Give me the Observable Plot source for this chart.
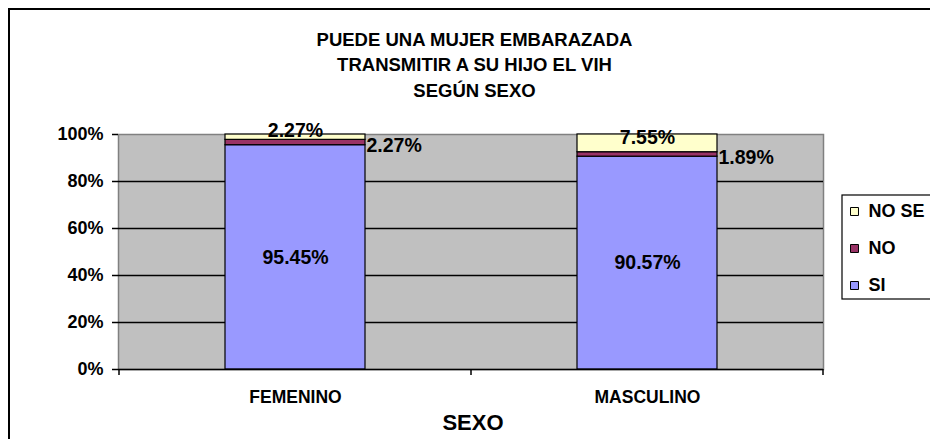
<!DOCTYPE html>
<html>
<head>
<meta charset="utf-8">
<script src="https://cdn.jsdelivr.net/npm/d3@7"></script>
<script src="https://cdn.jsdelivr.net/npm/@observablehq/plot@0.6"></script>
<style>
  html, body { margin: 0; padding: 0; background: #fff; }
  #chart { position: relative; width: 930px; height: 439px; overflow: hidden; }
  svg { font-family: "Liberation Sans", Arial, sans-serif; }
</style>
</head>
<body>
<div id="chart"></div>
<script>
// ---- data ----
const categories = ["FEMENINO", "MASCULINO"];
const series = ["SI", "NO", "NO SE"];
const siValues = [95.45, 90.57];
const noValues = [2.27, 1.89];
const noseValues = [2.27, 7.55];
const colors = ["#9999FF", "#993366", "#FFFFCC"];
const yTicks = [0, 20, 40, 60, 80, 100];
const titleLines = ["PUEDE UNA MUJER EMBARAZADA", "TRANSMITIR A SU HIJO EL VIH", "SEGÚN SEXO"];
const xTitle = "SEXO";
const legendOrder = ["NO SE", "NO", "SI"];

const valuesBySeries = {"SI": siValues, "NO": noValues, "NO SE": noseValues};
const rows = [];
for (const s of series) categories.forEach((c, i) => rows.push({sexo: c, resp: s, value: valuesBySeries[s][i]}));

const font = "Liberation Sans, Arial, sans-serif";
const fmt = v => v.toFixed(2) + "%";

const stackOpts = (s) => Plot.stackY({
  x: "sexo", y: "value", z: "resp", text: d => d.resp === s ? fmt(d.value) : null
});

const legendMarks = [];
legendOrder.forEach((s, k) => {
  const dy = -40.5 + k * 37;
  legendMarks.push(Plot.dot([s], {frameAnchor: "right", dx: 31, dy, symbol: "square", r: 4.5,
    fill: colors[series.indexOf(s)], stroke: "#000", strokeWidth: 1}));
  legendMarks.push(Plot.text([s], {frameAnchor: "right", dx: 45, dy, text: d => d, textAnchor: "start",
    fontSize: 18, fontWeight: "bold", fill: "#000"}));
});

const titleMarks = titleLines.map((t, i) => Plot.text([t], {
  frameAnchor: "top", dx: 3.5, dy: -102 + i * 25.5, text: d => d, fontSize: 18.5, fontWeight: "bold", fill: "#000"
}));

const chart = Plot.plot({
  width: 930,
  height: 439,
  marginLeft: 118,
  marginRight: 107,
  marginTop: 134,
  marginBottom: 70,
  style: {fontFamily: font, background: "transparent", overflow: "visible"},
  x: {domain: categories, paddingInner: 0, paddingOuter: 0, label: null},
  y: {domain: [0, 100], label: null},
  color: {domain: series, range: colors},
  marks: [
    Plot.frame({fill: "#C0C0C0", stroke: "#808080", strokeWidth: 1.5}),
    Plot.ruleY(yTicks.filter(t => t > 0 && t < 100), {stroke: "#000", strokeWidth: 1.5}),
    Plot.barY(rows, Plot.stackY({x: "sexo", y: "value", z: "resp", fill: "resp",
      stroke: "#000", strokeWidth: 1.2, insetLeft: 106, insetRight: 106})),
    Plot.text(rows, {...stackOpts("SI"), fontSize: 19.5, fontWeight: "bold", fill: "#000"}),
    Plot.text(rows, {...stackOpts("NO"), dx: 71, dy: 3, textAnchor: "start",
      fontSize: 19.5, fontWeight: "bold", fill: "#000"}),
    Plot.text(rows, {...stackOpts("NO SE"), dy: -6, fontSize: 19.5, fontWeight: "bold", fill: "#000"}),
    Plot.ruleX([0], {stroke: "#000", strokeWidth: 1.5, frameAnchor: "left"}),
    Plot.ruleY([0], {stroke: "#000", strokeWidth: 1.5}),
    Plot.axisY({ticks: yTicks, tickFormat: d => d + "%", tickSize: 6, tickPadding: 9,
      fontSize: 18, fontWeight: "bold", fill: "#000", stroke: "#000", strokeWidth: 1.5, label: null}),
    Plot.axisX({tickSize: 0, tickPadding: 21, fontSize: 17.5, fontWeight: "bold", fill: "#000", label: null}),
    Plot.text([xTitle], {frameAnchor: "bottom", dy: 60, dx: 2, text: d => d, fontSize: 22, fontWeight: "bold", fill: "#000"}),
    ...titleMarks,
    ...legendMarks
  ]
});

// Category boundary ticks, chart border and legend box drawn from the scales
const svg = d3.select(chart);
const xs = chart.scale("x");
const ys = chart.scale("y");
const y0 = ys.apply(0);
const bounds = [xs.apply(categories[0]), ...categories.map(c => xs.apply(c) + xs.bandwidth)];
svg.append("g").selectAll("line").data(bounds).join("line")
  .attr("x1", d => d).attr("x2", d => d).attr("y1", y0).attr("y2", y0 + 6)
  .attr("stroke", "#000").attr("stroke-width", 1.5);
// legend box
const xr = xs.range[1];
svg.append("rect").attr("x", xr + 19).attr("y", ys.apply(100) + 61).attr("width", 120).attr("height", 104)
  .attr("fill", "none").attr("stroke", "#000").attr("stroke-width", 1.2);
// outer chart border
svg.append("rect").attr("x", 9).attr("y", 9).attr("width", 960).attr("height", 460)
  .attr("fill", "none").attr("stroke", "#000").attr("stroke-width", 2);

document.getElementById("chart").appendChild(chart);
</script>
</body>
</html>
